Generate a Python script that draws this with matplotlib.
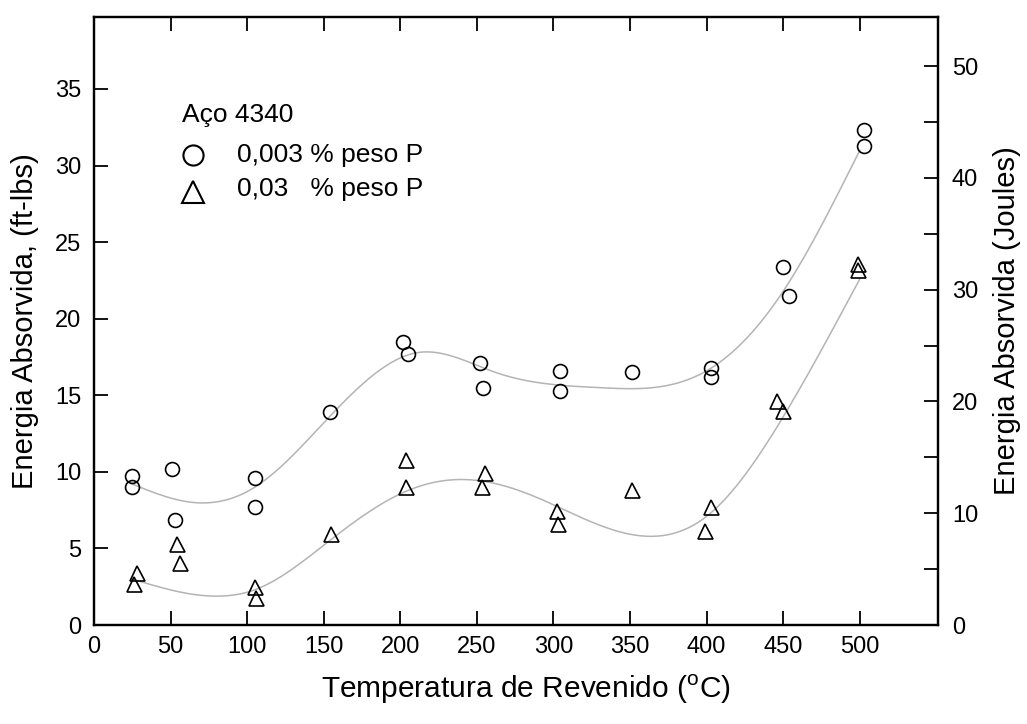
import numpy as np
import matplotlib
matplotlib.use("Agg")
import matplotlib.pyplot as plt
from matplotlib.ticker import MultipleLocator

plt.rcParams['font.family'] = ['Liberation Sans', 'DejaVu Sans']
plt.rcParams['mathtext.fontset'] = 'custom'
plt.rcParams['mathtext.rm'] = 'Liberation Sans'

# --- data (ft-lbs) ---
circ_T = [25, 25, 51, 53, 105, 105, 154, 202, 205, 252, 254, 304, 304, 351, 403, 403, 450, 454, 503, 503]
circ_E = [9.74, 9.0, 10.2, 6.86, 9.6, 7.71, 13.9, 18.5, 17.7, 17.1, 15.5, 16.6, 15.3, 16.5, 16.8, 16.2, 23.4, 21.5, 32.3, 31.3]

tri_T = [28, 26, 54, 56, 105, 106, 155, 204, 204, 255, 253, 302, 303, 351, 403, 399, 446, 450, 499, 499]
tri_E = [3.38, 2.68, 5.27, 4.03, 2.5, 1.74, 5.93, 10.8, 9.04, 9.9, 9.04, 7.45, 6.6, 8.8, 7.73, 6.17, 14.66, 14.0, 23.6, 23.2]

# smooth trend-curve knots
circ_curve_T = [25, 65, 105, 150, 212, 262, 330, 400, 450, 500]
circ_curve_E = [9.2, 8.0, 9.0, 13.2, 17.8, 16.5, 15.5, 16.6, 21.8, 31.0]

tri_curve_T = [25, 85, 105, 155, 203, 238, 285, 360, 400, 450, 500]
tri_curve_E = [3.0, 1.9, 2.3, 5.6, 8.7, 9.5, 8.5, 5.8, 7.1, 13.6, 22.6]

xticks = [0, 50, 100, 150, 200, 250, 300, 350, 400, 450, 500]
yticks = [0, 5, 10, 15, 20, 25, 30, 35]
jticks = [0, 10, 20, 30, 40, 50]
J_PER_FTLB = 1.37

legend_title = 'Aço 4340'
legend_labels = ['0,003 % peso P', '0,03   % peso P']


def natural_spline(x, y, xs):
    x = np.asarray(x, float); y = np.asarray(y, float)
    n = len(x)
    h = np.diff(x)
    A = np.zeros((n, n)); b = np.zeros(n)
    A[0, 0] = 1; A[-1, -1] = 1
    for i in range(1, n - 1):
        A[i, i - 1] = h[i - 1]
        A[i, i] = 2 * (h[i - 1] + h[i])
        A[i, i + 1] = h[i]
        b[i] = 3 * ((y[i + 1] - y[i]) / h[i] - (y[i] - y[i - 1]) / h[i - 1])
    c = np.linalg.solve(A, b)
    out = np.empty_like(xs)
    for k, xv in enumerate(xs):
        i = min(max(np.searchsorted(x, xv) - 1, 0), n - 2)
        d = xv - x[i]
        bi = (y[i + 1] - y[i]) / h[i] - h[i] * (2 * c[i] + c[i + 1]) / 3
        di = (c[i + 1] - c[i]) / (3 * h[i])
        out[k] = y[i] + bi * d + c[i] * d ** 2 + di * d ** 3
    return out


fig = plt.figure(figsize=(10.27, 7.24), dpi=100)
ax = fig.add_axes([0.0915, 0.1367, 0.8218, 0.8398])

xs1 = np.linspace(circ_curve_T[0], circ_curve_T[-1], 400)
ax.plot(xs1, natural_spline(circ_curve_T, circ_curve_E, xs1), color='#b4b4b4', lw=1.1, zorder=1)
xs2 = np.linspace(tri_curve_T[0], tri_curve_T[-1], 400)
ax.plot(xs2, natural_spline(tri_curve_T, tri_curve_E, xs2), color='#b4b4b4', lw=1.1, zorder=1)

mk_c = dict(marker='o', ms=10, mfc='none', mec='black', mew=1.2, ls='none')
mk_t = dict(marker='^', ms=10.8, mfc='none', mec='black', mew=1.2, ls='none')
ax.plot(circ_T, circ_E, zorder=3, **mk_c)
ax.plot(tri_T, tri_E, zorder=3, **mk_t)

ax.set_xlim(0, 551)
ax.set_ylim(0, 39.7)
ax.set_xticks(xticks)
ax.set_yticks(yticks)
ax.tick_params(axis='both', direction='in', length=10, width=1.3, labelsize=17,
               top=True, bottom=True, left=True, right=False)
ax.tick_params(axis='x', pad=8)
ax.tick_params(axis='y', pad=9)
for s in ax.spines.values():
    s.set_linewidth(1.6)

ax.set_xlabel(r'Temperatura de Revenido ($^\mathregular{o}$C)', fontsize=21.5)
ax.xaxis.set_label_coords(0.512, -0.078)
ax.set_ylabel('Energia Absorvida, (ft-lbs)', fontsize=21, labelpad=12)

ax2 = ax.twinx()
ax2.set_ylim(0, 39.7 * J_PER_FTLB)
ax2.set_yticks(jticks)
ax2.yaxis.set_minor_locator(MultipleLocator(5))
ax2.tick_params(axis='y', which='both', direction='in', length=10, width=1.3,
                labelsize=17, pad=10)
ax2.set_ylabel('Energia Absorvida (Joules)', fontsize=21, labelpad=11)
for s in ax2.spines.values():
    s.set_linewidth(1.6)

# manual legend
mk_c_leg = dict(mk_c, ms=14.5, mew=1.5)
mk_t_leg = dict(mk_t, ms=15.5, mew=1.5)
ax.text(0.104, 0.839, legend_title, transform=ax.transAxes, fontsize=19,
        ha='left', va='center')
ax.plot([0.117], [0.773], transform=ax.transAxes, clip_on=False, **mk_c_leg)
ax.text(0.169, 0.773, legend_labels[0], transform=ax.transAxes, fontsize=19,
        ha='left', va='center')
ax.plot([0.117], [0.713], transform=ax.transAxes, clip_on=False, **mk_t_leg)
ax.text(0.169, 0.717, legend_labels[1], transform=ax.transAxes, fontsize=19,
        ha='left', va='center')

fig.savefig('out.png', dpi=100)
